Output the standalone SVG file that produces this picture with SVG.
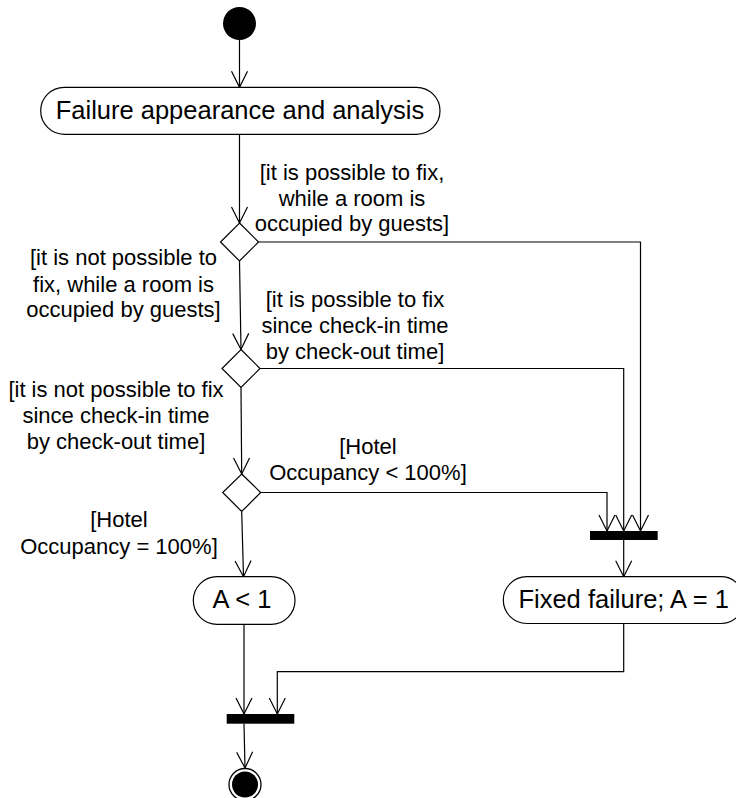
<svg xmlns="http://www.w3.org/2000/svg" width="736" height="798" viewBox="0 0 736 798">
<style>
.act{fill:#fff;stroke:#000;stroke-width:1.2}
.at{font-family:"Liberation Sans",Arial,sans-serif;font-size:25.5px;fill:#000;text-anchor:middle}
.lb{font-family:"Liberation Sans",Arial,sans-serif;font-size:22px;fill:#000;text-anchor:middle}
.dec{fill:#fff;stroke:#000;stroke-width:1.2}
.bar{fill:#000}
.c{fill:none;stroke:#000;stroke-width:1.2}
</style>
<defs>
<marker id="arr" markerUnits="userSpaceOnUse" markerWidth="20" markerHeight="20" viewBox="-17 -10 19 20" refX="0" refY="0" orient="auto">
<path d="M-16,-8 L0,0 L-16,8" fill="none" stroke="#000" stroke-width="1.2"/>
</marker>
</defs>
<g id="connectors">
<path class="c" d="M239.5,40 L239.5,87.3" marker-end="url(#arr)"/>
<path class="c" d="M239.5,134.3 L239.5,223" marker-end="url(#arr)"/>
<path class="c" d="M258.5,242 L640.5,242 L640.5,531" marker-end="url(#arr)"/>
<path class="c" d="M239.5,261 L241,349.5" marker-end="url(#arr)"/>
<path class="c" d="M260,368.5 L623.7,368.5 L623.7,531" marker-end="url(#arr)"/>
<path class="c" d="M241,387.5 L241.7,474" marker-end="url(#arr)"/>
<path class="c" d="M260.7,492.5 L607,492.5 L607,531" marker-end="url(#arr)"/>
<path class="c" d="M241.7,512 L243.5,576.7" marker-end="url(#arr)"/>
<path class="c" d="M623.7,540 L623.7,576.7" marker-end="url(#arr)"/>
<path class="c" d="M244,624.3 L244,714" marker-end="url(#arr)"/>
<path class="c" d="M623.7,623.5 L623.7,671.7 L277.3,671.7 L277.3,714" marker-end="url(#arr)"/>
<path class="c" d="M244,723.7 L245,768" marker-end="url(#arr)"/>
</g>
<g id="start"><circle cx="239.5" cy="23.5" r="16.5" fill="#000"/></g>
<g id="act_failure">
<rect class="act" x="40.7" y="87.3" width="399.3" height="47" rx="23.5" ry="23.5"/>
<text class="at" x="240" y="118.5">Failure appearance and analysis</text>
</g>
<g id="decision1"><polygon class="dec" points="239.5,223 258.5,242 239.5,261 220.5,242"/></g>
<g id="decision2"><polygon class="dec" points="241,349.5 260,368.5 241,387.5 222,368.5"/></g>
<g id="decision3"><polygon class="dec" points="241.7,474 260.7,492.5 241.7,511.5 222.7,492.5"/></g>
<g id="label1">
<text class="lb" x="352" y="179.5">[it is possible to fix,</text>
<text class="lb" x="352" y="205.5">while a room is</text>
<text class="lb" x="352" y="231">occupied by guests]</text>
</g>
<g id="label2">
<text class="lb" x="123.5" y="265">[it is not possible to</text>
<text class="lb" x="123.5" y="291.5">fix, while a room is</text>
<text class="lb" x="123.5" y="317">occupied by guests]</text>
</g>
<g id="label3">
<text class="lb" x="355" y="306.5">[it is possible to fix</text>
<text class="lb" x="355" y="333">since check-in time</text>
<text class="lb" x="355" y="359">by check-out time]</text>
</g>
<g id="label4">
<text class="lb" x="116" y="396.5">[it is not possible to fix</text>
<text class="lb" x="116" y="422.5">since check-in time</text>
<text class="lb" x="116" y="448.5">by check-out time]</text>
</g>
<g id="label5">
<text class="lb" x="368" y="453.5">[Hotel</text>
<text class="lb" x="368" y="480">Occupancy &lt; 100%]</text>
</g>
<g id="label6">
<text class="lb" x="119" y="527">[Hotel</text>
<text class="lb" x="119" y="553.5">Occupancy = 100%]</text>
</g>
<g id="join1"><rect class="bar" x="590" y="531" width="67.7" height="9"/></g>
<g id="act_a_lt_1">
<rect class="act" x="193.3" y="576.7" width="101.7" height="47.6" rx="23.8" ry="23.8"/>
<text class="at" x="242" y="607.5">A &lt; 1</text>
</g>
<g id="act_fixed">
<rect class="act" x="503.3" y="576.7" width="241" height="46.8" rx="23.4" ry="23.4"/>
<text class="at" x="623.7" y="607.5">Fixed failure; A = 1</text>
</g>
<g id="join2"><rect class="bar" x="226.7" y="714" width="67.6" height="9.7"/></g>
<g id="final">
<circle cx="245" cy="784.5" r="16" fill="#fff" stroke="#000" stroke-width="1.3"/>
<circle cx="245" cy="784.5" r="13" fill="#000"/>
</g>
</svg>
